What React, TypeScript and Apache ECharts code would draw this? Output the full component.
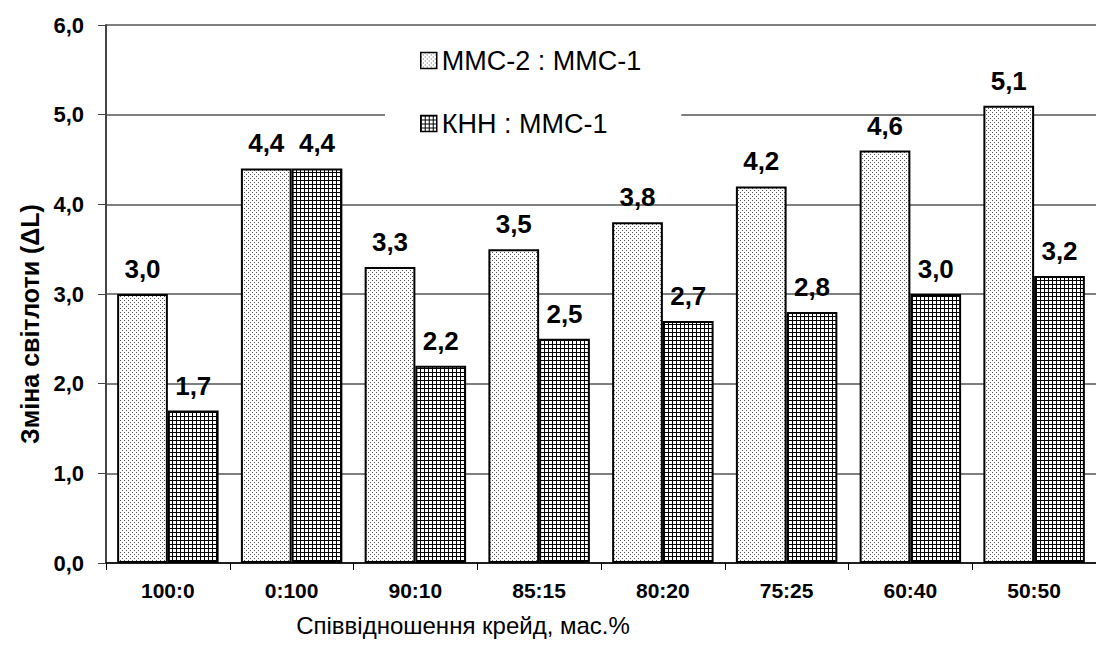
import React, { useEffect, useRef } from "react";
import * as echarts from "echarts";

const categories = ["100:0", "0:100", "90:10", "85:15", "80:20", "75:25", "60:40", "50:50"];
const seriesNames = ["ММС-2 : ММС-1", "КНН : ММС-1"];
const mms2Values = [3.0, 4.4, 3.3, 3.5, 3.8, 4.2, 4.6, 5.1];
const knnValues = [1.7, 4.4, 2.2, 2.5, 2.7, 2.8, 3.0, 3.2];
const yTicks = { min: 0, max: 6, interval: 1 };
const yAxisTitle = "Зміна світлоти (ΔL)";
const xAxisTitle = "Співвідношення крейд, мас.%";

const FONT = 'Arial, "Liberation Sans", sans-serif';

function makeDots(): HTMLCanvasElement {
  const c = document.createElement("canvas");
  c.width = 4;
  c.height = 4;
  const ctx = c.getContext("2d")!;
  ctx.fillStyle = "#ffffff";
  ctx.fillRect(0, 0, 4, 4);
  ctx.fillStyle = "#555555";
  ctx.fillRect(0, 0, 1, 1);
  ctx.fillRect(2, 2, 1, 1);
  return c;
}

function makeGrid(): HTMLCanvasElement {
  const c = document.createElement("canvas");
  c.width = 4;
  c.height = 4;
  const ctx = c.getContext("2d")!;
  ctx.fillStyle = "#ffffff";
  ctx.fillRect(0, 0, 4, 4);
  ctx.fillStyle = "#000000";
  ctx.fillRect(0, 0, 4, 1);
  ctx.fillRect(0, 0, 1, 4);
  return c;
}

const fmt = (v: number) => v.toFixed(1).replace(".", ",");

export default function App() {
  const ref = useRef<HTMLDivElement>(null);
  useEffect(() => {
    if (!ref.current) return;
    const chart = echarts.init(ref.current, undefined, { renderer: "svg" });
    const dots = { image: makeDots(), repeat: "repeat" };
    const grid = { image: makeGrid(), repeat: "repeat" };
    const label = {
      show: true,
      position: "top",
      distance: 12,
      fontFamily: FONT,
      fontWeight: "bold",
      fontSize: 26,
      color: "#000",
      formatter: (p: any) => fmt(p.value),
    };
    chart.setOption({
      animation: false,
      backgroundColor: "#ffffff",
      grid: { left: 106, right: -7, top: 25, bottom: 82, containLabel: false },
      legend: {
        orient: "vertical",
        left: 385,
        top: 35,
        padding: [12, 40, 20, 35],
        backgroundColor: "#ffffff",
        itemGap: 36,
        itemWidth: 16,
        itemHeight: 16,
        icon: "rect",
        itemStyle: { borderColor: "#000", borderWidth: 1.5 },
        textStyle: { fontFamily: FONT, fontSize: 27, color: "#000" },
        data: seriesNames,
      },
      xAxis: {
        type: "category",
        data: categories,
        name: xAxisTitle,
        nameLocation: "middle",
        nameGap: 50,
        nameTextStyle: { fontFamily: FONT, fontSize: 24, color: "#000", padding: [0, 276, 0, 0] },
        axisLine: { lineStyle: { color: "#000", width: 1.5 } },
        axisTick: { show: true, length: 7, lineStyle: { color: "#000" } },
        axisLabel: { fontFamily: FONT, fontWeight: "bold", fontSize: 21, color: "#000", margin: 17 },
      },
      yAxis: {
        type: "value",
        min: yTicks.min,
        max: yTicks.max,
        interval: yTicks.interval,
        name: yAxisTitle,
        nameLocation: "middle",
        nameGap: 62,
        nameTextStyle: { fontFamily: FONT, fontWeight: "bold", fontSize: 25, color: "#000", padding: [0, 60, 0, 0] },
        axisLine: { show: true, lineStyle: { color: "#444", width: 2 } },
        axisTick: { show: true, length: 8, lineStyle: { color: "#444" } },
        axisLabel: { fontFamily: FONT, fontWeight: "bold", fontSize: 22, color: "#000", margin: 22, formatter: (v: number) => fmt(v) },
        splitLine: { show: true, lineStyle: { color: "#555", width: 1.5 } },
      },
      series: [
        {
          name: seriesNames[0],
          type: "bar",
          data: mms2Values,
          barGap: "0%",
          barCategoryGap: "18%",
          itemStyle: { color: dots, borderColor: "#000", borderWidth: 2 },
          label,
        },
        {
          name: seriesNames[1],
          type: "bar",
          data: knnValues,
          barGap: "0%",
          barCategoryGap: "18%",
          itemStyle: { color: grid, borderColor: "#000", borderWidth: 2 },
          label,
        },
      ],
    });
    return () => chart.dispose();
  }, []);
  return (
    <div
      ref={ref}
      style={{ position: "fixed", left: 0, top: 0, width: 1096, height: 645, background: "#fff" }}
    />
  );
}
